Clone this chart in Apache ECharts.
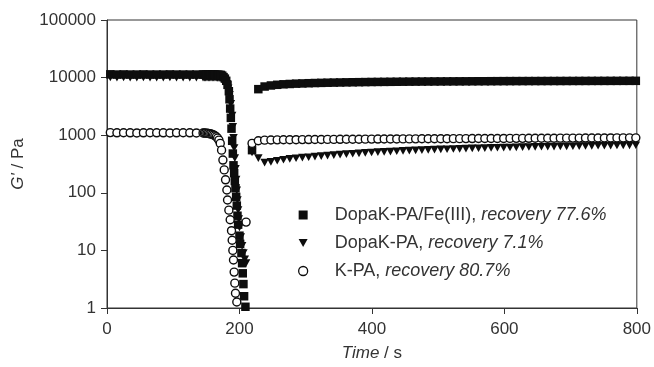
<!DOCTYPE html>
<html>
<head>
<meta charset="utf-8">
<script src="https://cdn.jsdelivr.net/npm/echarts@6/dist/echarts.min.js"></script>
<style>html,body{margin:0;padding:0;background:#fff}#c{width:654px;height:367px}</style>
</head>
<body>
<div id="c"></div>
<script>
// ---- data (time in s, G' in Pa) ----
const xTicks = [0, 200, 400, 600, 800];
const yTicks = [1, 10, 100, 1000, 10000, 100000];
const seriesNames = ['DopaK-PA/Fe(III)', 'DopaK-PA', 'K-PA'];
const recoveryLabels = ['recovery 77.6%', 'recovery 7.1%', 'recovery 80.7%'];

const plateauTime = [5,15,25,35,45,55,65,75,85,95,105,115,125,135,145];
const recoveryTime = [219,228.5,238,247.5,257,266.5,276,285.5,295,304.5,
  314,323.5,333,342.5,352,361.5,371,380.5,390,399.5,
  409,418.5,428,437.5,447,456.5,466,475.5,485,494.5,
  504,513.5,523,532.5,542,551.5,561,570.5,580,589.5,
  599,608.5,618,627.5,637,646.5,656,665.5,675,684.5,
  694,703.5,713,722.5,732,741.5,751,760.5,770,779.5,
  789,798.5];

// DopaK-PA/Fe(III) (filled squares)
const sqPlateau = [11400,11300,11350,11300,11300,11350,11300,11300,11300,11350,11300,11300,11300,11300,11300];
const sqDropTime = [147,149,151,153,155,157,159,161,163,165,167,169,171,172,174,176,178,180,182,184,
  185,186,187,188,189,190,191,192,193,194,195,196,197,198,200,201,203,204,205,206,207,209];
const sqDropValue = [11300,11300,11300,11300,11300,11300,11300,11250,11250,11200,11200,11150,11100,11100,10800,10200,9600,8800,7500,5800,
  4200,2900,2000,1300,800,480,300,220,160,120,85,60,40,28,18,13,9,6,4,2.6,1.6,1.05];
const sqRecovery = [550,6300,7000,7300,7500,7650,7750,7850,7920,7990,
  8050,8100,8150,8190,8230,8270,8300,8330,8360,8390,
  8410,8430,8450,8470,8490,8510,8525,8540,8555,8570,
  8580,8590,8600,8610,8620,8630,8640,8650,8660,8670,
  8680,8690,8695,8700,8705,8710,8715,8720,8725,8730,
  8735,8740,8745,8750,8755,8760,8765,8770,8775,8780,
  8785,8790];

// DopaK-PA (filled down triangles)
const triPlateau = [10100,10000,10050,10000,10000,10050,10000,10000,10000,10050,10000,10000,10000,10000,10000];
const triDropTime = [147,149,151,153,155,157,159,161,163,165,167,169,171,
  173,175,177,179,181,183,185,187,189,190,191,192,193,194,195,196,197,198,199,200,202,204,206,208,210];
const triDropValue = [10000,10000,10000,10000,10000,10000,10000,9980,9950,9950,9920,9900,9900,
  9900,9700,9300,8700,7800,6500,5000,3500,2200,1400,900,600,400,260,170,110,75,50,35,25,17,12,9,7,6];
const triRecovery = [500,400,335,345,360,375,388,398,407,415,
  424,433,442,451,460,468,476,484,492,500,
  507,514,520,527,533,539,545,550,556,561,
  566,571,575,580,584,589,593,597,601,605,
  609,612,616,619,623,626,629,632,635,638,
  641,644,647,650,652,655,657,660,662,665,
  667,670];

// K-PA (open circles)
const circPlateau = [1110,1100,1105,1100,1095,1100,1105,1100,1100,1095,1100,1105,1100,1095,1090];
const circDropTime = [147,149,151,153,155,157,159,161,163,165,167,169,171,173,175,177,179,181,
  182,184,186,188,189,190,191,192,193,194,196,210];
const circDropValue = [1090,1085,1080,1070,1060,1050,1030,1010,980,940,890,820,720,550,370,250,168,112,
  75,50,34,22,15,10,6.8,4.2,2.7,1.8,1.27,31];
const circRecovery = [720,800,820,825,830,832,834,836,838,840,
  842,843,845,846,848,849,851,852,854,855,
  857,858,859,861,862,863,864,866,867,868,
  869,870,871,872,873,874,875,876,877,878,
  879,880,881,882,883,884,885,886,887,888,
  889,890,891,892,893,894,895,896,897,898,
  899,900];

function zip(t, v) { return t.map((x, i) => [x, v[i]]); }
function build(pv, dt, dv, rv) {
  return zip(plateauTime, pv).concat(zip(dt, dv), zip(recoveryTime, rv));
}
const sqData = build(sqPlateau, sqDropTime, sqDropValue, sqRecovery);
const triData = build(triPlateau, triDropTime, triDropValue, triRecovery);
const circData = build(circPlateau, circDropTime, circDropValue, circRecovery);

const FONT = '"Liberation Sans", Arial, Helvetica, sans-serif';
const INK = '#0d0d0d';
const TXT = '#333';
const SQ = 'path://M0,0L10,0L10,10L0,10Z';
const TRI = 'path://M0,0L10,0L5,9Z';
const CIR = 'path://M10,5A5,5,0,1,1,0,5A5,5,0,1,1,10,5Z';

const chart = echarts.init(document.getElementById('c'), null, {renderer: 'canvas'});
chart.setOption({
  animation: false,
  backgroundColor: '#fff',
  grid: {left: 107, right: 15, top: 20, bottom: 59, show: true, borderColor: TXT, borderWidth: 1, backgroundColor: 'transparent'},
  xAxis: {
    type: 'value', min: xTicks[0], max: xTicks[xTicks.length - 1], interval: 200,
    name: '{i|Time} / s', nameLocation: 'middle', nameGap: 37,
    nameTextStyle: {fontFamily: FONT, fontSize: 17, color: TXT, rich: {i: {fontStyle: 'italic', fontFamily: FONT, fontSize: 17, color: TXT}}},
    axisLine: {lineStyle: {color: TXT, width: 1}},
    axisTick: {inside: false, length: 6, lineStyle: {color: TXT}},
    axisLabel: {fontFamily: FONT, fontSize: 17, color: TXT, margin: 13},
    splitLine: {show: false}
  },
  yAxis: {
    type: 'log', logBase: 10, min: yTicks[0], max: yTicks[yTicks.length - 1],
    name: "{i|G'} / Pa", nameLocation: 'middle', nameGap: 80,
    nameTextStyle: {fontFamily: FONT, fontSize: 17, color: TXT, rich: {i: {fontStyle: 'italic', fontFamily: FONT, fontSize: 17, color: TXT}}},
    axisLine: {lineStyle: {color: TXT, width: 1}},
    axisTick: {inside: false, length: 6, lineStyle: {color: TXT}},
    axisLabel: {fontFamily: FONT, fontSize: 17, color: TXT, margin: 11, formatter: v => String(Math.round(v))},
    splitLine: {show: false},
    minorTick: {show: false}
  },
  legend: {
    orient: 'vertical', left: 293, top: 200, itemGap: 8, itemWidth: 9, itemHeight: 9,
    selectedMode: false, symbolKeepAspect: true,
    data: [
      {name: seriesNames[0], icon: SQ},
      {name: seriesNames[1], icon: TRI},
      {name: seriesNames[2], icon: CIR, itemStyle: {borderWidth: 1.3}}
    ],
    formatter: name => {
      const i = seriesNames.indexOf(name);
      return '{n|' + name + ', }{i|' + recoveryLabels[i] + '}';
    },
    textStyle: {
      fontFamily: FONT, fontSize: 18, color: TXT, padding: [0, 0, 0, 22], lineHeight: 20,
      rich: {
        n: {fontFamily: FONT, fontSize: 18, color: TXT, lineHeight: 20},
        i: {fontFamily: FONT, fontSize: 18, color: TXT, fontStyle: 'italic', lineHeight: 20}
      }
    }
  },
  series: [
    {name: seriesNames[1], type: 'scatter', data: triData, symbol: TRI, symbolSize: [8.5, 8.5], symbolKeepAspect: true,
     itemStyle: {color: INK, opacity: 1}, emphasis: {disabled: true}, z: 2},
    {name: seriesNames[0], type: 'scatter', data: sqData, symbol: SQ, symbolSize: 8.5,
     itemStyle: {color: INK, opacity: 1}, emphasis: {disabled: true}, z: 3},
    {name: seriesNames[2], type: 'scatter', data: circData, symbol: 'circle', symbolSize: 8,
     itemStyle: {color: '#fff', borderColor: INK, borderWidth: 1.4, opacity: 1}, emphasis: {disabled: true}, z: 4}
  ]
});
</script>
</body>
</html>
